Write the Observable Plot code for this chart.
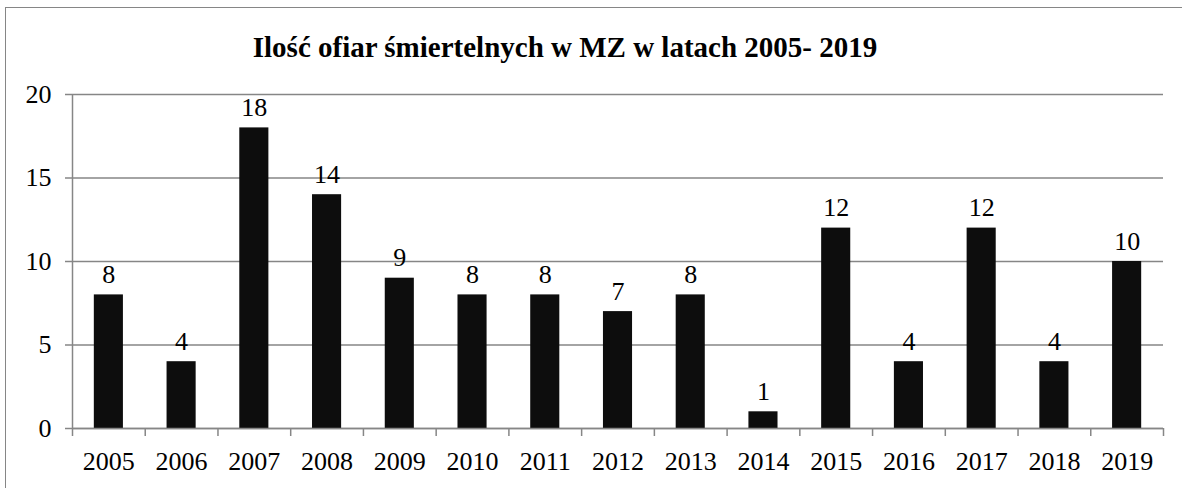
<!DOCTYPE html>
<html>
<head>
<meta charset="utf-8">
<script src="https://cdn.jsdelivr.net/npm/d3@7"></script>
<script src="https://cdn.jsdelivr.net/npm/@observablehq/plot@0.6"></script>
<style>
  html, body { margin: 0; padding: 0; background: #fff; width: 1182px; height: 488px; overflow: hidden; }
  #frame { position: absolute; left: 5px; top: 7px; width: 1300px; height: 600px; border: 1.5px solid #868686; box-sizing: border-box; }
  #title { position: absolute; left: 0; top: 33px; width: 1130px; text-align: center; font-family: 'Liberation Serif'; font-weight: bold; font-size: 29px; color: #000; line-height: 1; }
  #chart { position: absolute; left: 0; top: 0; }
  #chart svg text { font-family: 'Liberation Serif' !important; }
</style>
</head>
<body>
<div id="frame"></div>
<div id="title">Ilość ofiar śmiertelnych w MZ w latach 2005- 2019</div>
<div id="chart"></div>
<script>
const years = [2005, 2006, 2007, 2008, 2009, 2010, 2011, 2012, 2013, 2014, 2015, 2016, 2017, 2018, 2019];
const deaths = [8, 4, 18, 14, 9, 8, 8, 7, 8, 1, 12, 4, 12, 4, 10];
const yTicks = [0, 5, 10, 15, 20];

const data = years.map((year, i) => ({year, value: deaths[i]}));
const boundaries = [years[0] - 0.5, ...years.map(y => y + 0.5)];
const gray = "#868686";

const chart = Plot.plot({
  width: 1182,
  height: 488,
  marginTop: 94,
  marginBottom: 60,
  marginLeft: 72,
  marginRight: 19,
  style: "font-family: 'Liberation Serif'; font-size: 26px; color: #000; background: transparent;",
  x: {type: "linear", domain: [years[0] - 0.5, years[years.length - 1] + 0.5]},
  y: {domain: [0, 20]},
  marks: [
    Plot.gridY(yTicks, {stroke: gray, strokeOpacity: 1, strokeWidth: 1.5}),
    Plot.ruleX([years[0] - 0.5], {y1: 0, y2: 20, stroke: gray, strokeWidth: 1.5}),
    Plot.axisY({ticks: yTicks, tickSize: 7, tickPadding: 14, stroke: gray, strokeWidth: 1.5, fill: "#000", label: null, fontVariant: "normal"}),
    Plot.axisX({ticks: boundaries, tickSize: 8, tickFormat: () => "", stroke: gray, strokeWidth: 1.5, label: null}),
    Plot.axisX({ticks: years, tickSize: 0, tickPadding: 23, tickFormat: d => String(d), fill: "#000", label: null, fontVariant: "normal"}),
    Plot.rectY(data, {x1: d => d.year - 0.2, x2: d => d.year + 0.2, y1: 0, y2: "value", fill: "#0d0d0d"}),
    Plot.ruleY([0], {stroke: gray, strokeWidth: 1.5}),
    Plot.text(data, {x: "year", y: "value", text: d => String(d.value), lineAnchor: "bottom", dy: -12, fill: "#000", fontSize: 26})
  ]
});
d3.select(chart).selectAll("text, g").attr("font-family", "Liberation Serif").style("font-family", "'Liberation Serif'");
document.getElementById("chart").appendChild(chart);
</script>
</body>
</html>
